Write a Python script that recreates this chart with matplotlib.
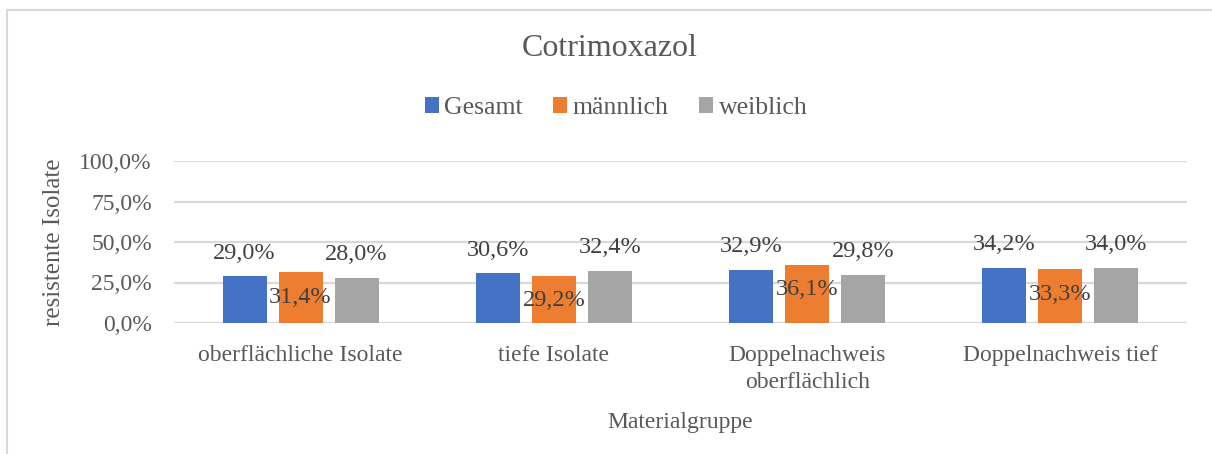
import matplotlib.pyplot as plt
import numpy as np
from matplotlib.lines import Line2D
from matplotlib.patches import Patch

categories = ["oberflächliche Isolate", "tiefe Isolate",
              "Doppelnachweis\noberflächlich", "Doppelnachweis tief"]
series_names = ["Gesamt", "männlich", "weiblich"]
gesamt = [29.0, 30.6, 32.9, 34.2]
maennlich = [31.4, 29.2, 36.1, 33.3]
weiblich = [28.0, 32.4, 29.8, 34.0]
yticks = [0, 25, 50, 75, 100]

colors = ["#4472C4", "#ED7D31", "#A5A5A5"]
text_col = "#595959"
label_col = "#404040"
grid_col = "#D9D9D9"

plt.rcParams["font.family"] = ["Liberation Serif", "DejaVu Serif"]

fig = plt.figure(figsize=(12.12, 4.54), dpi=100)
ax = fig.add_axes([174 / 1212, 1 - 323 / 454, (1187 - 174) / 1212, (323 - 161) / 454])

x = np.arange(len(categories))
width = 0.174
step = 0.221
data = [gesamt, maennlich, weiblich]
for i, (vals, col) in enumerate(zip(data, colors)):
    pos = x + (i - 1) * step
    bars = ax.bar(pos, vals, width, color=col, zorder=3)
    for b, v in zip(bars, vals):
        lbl = f"{v:.1f}%".replace(".", ",")
        # orange labels sit inside the bar end, others outside
        off = -25 if i == 1 else 23
        ax.annotate(lbl, (b.get_x() + b.get_width() / 2, v), xytext=(0, off),
                    textcoords="offset pixels", ha="center", va="center",
                    fontsize=17.5, color=label_col, zorder=4)

ax.set_xlim(-0.5, len(categories) - 0.5)
ax.set_ylim(0, 100)
ax.set_yticks(yticks)
ax.set_yticklabels([f"{t:.1f}%".replace(".", ",") for t in yticks])
ax.set_xticks(x)
ax.set_xticklabels(categories, linespacing=1.35)
ax.tick_params(axis="both", length=0, labelsize=17, labelcolor=text_col)
ax.tick_params(axis="x", pad=16)
ax.tick_params(axis="y", pad=16)
ax.yaxis.grid(True, color=grid_col, linewidth=1.6, zorder=0)
for s in ax.spines.values():
    s.set_visible(False)

ax.set_ylabel("resistente Isolate", fontsize=18, color=text_col, labelpad=10)
ax.set_xlabel("Materialgruppe", fontsize=17, color=text_col, labelpad=14)

fig.text(610 / 1212, 1 - 48 / 454, "Cotrimoxazol", ha="center", va="center",
         fontsize=23, color=text_col)

handles = [Patch(facecolor=c, edgecolor="none") for c in colors]
fig.legend(handles, series_names, loc="center", bbox_to_anchor=(616 / 1212, 1 - 108 / 454),
           ncol=3, frameon=False, fontsize=18.5, labelcolor=text_col,
           handlelength=0.55, handleheight=0.55, handletextpad=0.2, columnspacing=1.2)

# chart frame
fig.add_artist(Line2D([7 / 1212, 7 / 1212], [0, 1 - 10 / 454], color=grid_col, lw=1.5,
                      transform=fig.transFigure))
fig.add_artist(Line2D([7 / 1212, 1], [1 - 10 / 454, 1 - 10 / 454], color=grid_col, lw=1.5,
                      transform=fig.transFigure))

fig.savefig("out.png", dpi=100)
